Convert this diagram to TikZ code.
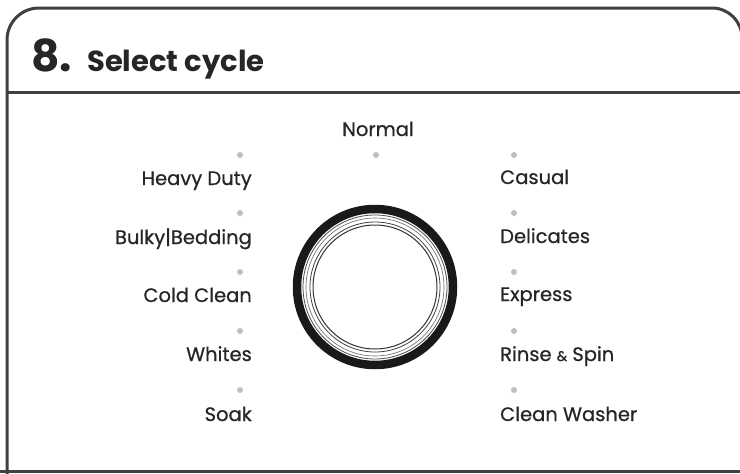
\documentclass[tikz,border=0pt]{standalone}
\usepackage{fontspec}
\setmainfont{Poppins}
\newfontfamily\medfont[FakeBold=0.7]{Poppins}
\begin{document}
\begin{tikzpicture}[x=1pt,y=-1pt,
  lbl/.style={font=\medfont\fontsize{19.5}{19.5}\selectfont, text=black!85, inner sep=0pt},
  lblL/.style={lbl, anchor=base east},
  lblR/.style={lbl, anchor=base west},
  dot/.style={circle, fill=black!25, inner sep=0pt, minimum size=6pt},
  frame/.style={line width=3pt, draw=black!75}]
\useasboundingbox (0,0) rectangle (740,474);
\begin{scope}
\clip (0,0) rectangle (740,474);
\draw[frame] (7,480) -- (7,40) arc[start angle=180,end angle=270,radius=32] -- (712,8) arc[start angle=270,end angle=360,radius=30] -- (742,480);
\draw[frame] (0,471) -- (745,471);
\draw[frame] (7,92) -- (745,92);
\end{scope}
% title
\node[anchor=base west, inner sep=0pt, font=\fontsize{44}{44}\selectfont\bfseries, text=black!85] (num) at (31,71) {8.};
\node[anchor=base west, inner sep=0pt, font=\fontsize{29}{29}\selectfont\bfseries, text=black!85] (title) at (87,71) {Select cycle};
% dial
\coordinate (c) at (375,287);
\draw[line width=8.5pt, black!90] (c) circle[radius=78];
\draw[line width=0.8pt, black!70] (c) circle[radius=72];
\draw[line width=0.6pt, black!60] (c) circle[radius=69];
\draw[line width=0.8pt, black!75] (c) circle[radius=65];
\draw[line width=1pt, black!80] (c) circle[radius=62];
% top
\node[lbl, anchor=base] (normal) at (378,136) {Normal};
\node[dot] (dn) at (376,155) {};
% left
\node[dot] (d1) at (240,155) {};
\node[lblL] (l1) at (252,185) {Heavy Duty};
\node[dot] (d2) at (240,213) {};
\node[lblL] (l2) at (252,244) {Bulky|Bedding};
\node[dot] (d3) at (240,272) {};
\node[lblL] (l3) at (252,302) {Cold Clean};
\node[dot] (d4) at (240,331) {};
\node[lblL] (l4) at (252,361) {Whites};
\node[dot] (d5) at (240,390) {};
\node[lblL] (l5) at (252,421) {Soak};
% right
\node[dot] (e1) at (514,155) {};
\node[lblR] (r1) at (500,184) {Casual};
\node[dot] (e2) at (514,213) {};
\node[lblR] (r2) at (500,243) {Delicates};
\node[dot] (e3) at (514,272) {};
\node[lblR] (r3) at (500,301) {Express};
\node[dot] (e4) at (514,331) {};
\node[lblR] (r4) at (500,361) {Rinse {\fontsize{14}{14}\selectfont\&} Spin};
\node[dot] (e5) at (514,390) {};
\node[lblR] (r5) at (500,421) {Clean Washer};
\end{tikzpicture}
\end{document}
